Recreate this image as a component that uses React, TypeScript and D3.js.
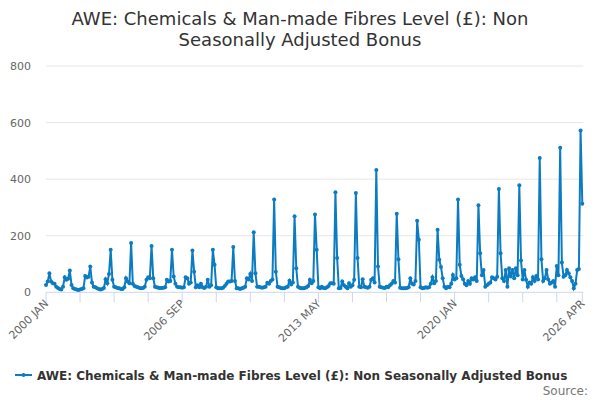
import React from "react";
import * as d3 from "d3";

const title1 = "AWE: Chemicals & Man-made Fibres Level (£): Non";
const title2 = "Seasonally Adjusted Bonus";
const seriesName = "AWE: Chemicals & Man-made Fibres Level (£): Non Seasonally Adjusted Bonus";
const startYear = 2000;
const monthNames = ["JAN", "FEB", "MAR", "APR", "MAY", "JUN", "JUL", "AUG", "SEP", "OCT", "NOV", "DEC"];

const y2000 = [26, 38, 67, 38, 32, 30, 20, 15, 12, 10, 20, 53];
const y2001 = [44, 48, 77, 26, 14, 12, 10, 8, 10, 12, 14, 58];
const y2002 = [52, 55, 91, 35, 20, 18, 14, 12, 10, 12, 15, 46];
const y2003 = [32, 65, 150, 44, 20, 18, 15, 14, 12, 12, 18, 50];
const y2004 = [38, 32, 174, 30, 22, 20, 18, 15, 14, 15, 20, 44];
const y2005 = [53, 50, 164, 50, 20, 18, 16, 15, 15, 16, 18, 44];
const y2006 = [38, 40, 150, 56, 30, 20, 18, 18, 16, 18, 53, 50];
const y2007 = [30, 35, 148, 73, 18, 25, 18, 30, 18, 15, 20, 44];
const y2008 = [20, 25, 150, 97, 18, 14, 14, 14, 16, 22, 30, 38];
const y2009 = [38, 40, 160, 40, 14, 14, 12, 14, 16, 20, 50, 45];
const y2010 = [65, 40, 212, 67, 20, 20, 18, 16, 18, 20, 34, 30];
const y2011 = [40, 45, 328, 73, 20, 18, 15, 14, 14, 18, 20, 41];
const y2012 = [28, 35, 269, 85, 20, 16, 14, 14, 15, 18, 22, 44];
const y2013 = [32, 40, 275, 150, 18, 14, 20, 15, 14, 18, 22, 32];
const y2014 = [32, 30, 354, 121, 14, 15, 38, 25, 20, 14, 32, 20];
const y2015 = [25, 44, 351, 121, 20, 18, 46, 20, 18, 16, 20, 44];
const y2016 = [50, 35, 432, 91, 20, 18, 16, 15, 20, 18, 25, 30];
const y2017 = [40, 35, 278, 117, 16, 14, 14, 14, 15, 18, 50, 30];
const y2018 = [28, 40, 253, 186, 18, 14, 15, 18, 16, 18, 30, 53];
const y2019 = [32, 40, 221, 115, 89, 50, 20, 14, 20, 18, 30, 61];
const y2020 = [45, 50, 328, 97, 58, 46, 30, 25, 40, 30, 50, 45];
const y2021 = [53, 40, 308, 138, 60, 79, 20, 25, 30, 35, 53, 50];
const y2022 = [45, 55, 365, 138, 50, 40, 79, 20, 85, 56, 79, 50];
const y2023 = [85, 60, 378, 112, 45, 79, 44, 20, 35, 30, 53, 40];
const y2024 = [58, 45, 475, 117, 40, 50, 79, 45, 30, 35, 40, 20];
const y2025 = [93, 60, 511, 105, 55, 60, 79, 67, 53, 40, 14, 30];
const y2026 = [79, 82, 572, 313];

const years = [y2000, y2001, y2002, y2003, y2004, y2005, y2006, y2007, y2008, y2009, y2010, y2011, y2012, y2013, y2014, y2015, y2016, y2017, y2018, y2019, y2020, y2021, y2022, y2023, y2024, y2025, y2026];
const values: number[] = years.flat();

const yTicks = [0, 200, 400, 600, 800];
const xTickStep = 20;
const xLabelStep = 80;

const W = 600;
const H = 400;
const left = 46;
const right = 582.3;
const top = 66;
const bottom = 292.3;
const color = "#0c7cc2";
const font = "DejaVu Sans, sans-serif";

function labelFor(i: number) {
  return `${startYear + Math.floor(i / 12)} ${monthNames[i % 12]}`;
}

export default function App() {
  const n = values.length;
  const x = d3.scaleLinear().domain([0, n - 1]).range([left, right]);
  const y = d3.scaleLinear().domain([0, 800]).range([bottom, top]);
  const line = d3.line<number>().x((_, i) => x(i)).y((d) => y(d));
  const xTicks = d3.range(0, n, xTickStep).concat([n - 1]);
  const xLabels = d3.range(0, n - 10, xLabelStep).concat([n - 1]);

  return (
    <svg width={W} height={H} style={{ position: "absolute", left: 0, top: 0, fontFamily: font }}>
      <rect width={W} height={H} fill="#fff" />
      <text x={300} y={25} textAnchor="middle" fontSize={18} fill="#333">{title1}</text>
      <text x={300} y={46} textAnchor="middle" fontSize={18} fill="#333">{title2}</text>
      {yTicks.filter((t) => t > 0).map((t) => (
        <line key={t} x1={left} x2={right + 1} y1={y(t)} y2={y(t)} stroke="#e6e6e6" />
      ))}
      {yTicks.map((t) => (
        <text key={t} x={31} y={y(t) + 4} textAnchor="end" fontSize={11} fill="#666">{t}</text>
      ))}
      <line x1={left} x2={right + 1} y1={bottom} y2={bottom} stroke="#ccd6eb" />
      {xTicks.map((t) => (
        <line key={t} x1={x(t)} x2={x(t)} y1={bottom} y2={bottom + 10} stroke="#ccd6eb" />
      ))}
      {xLabels.map((t) => (
        <text key={t} transform={`translate(${x(t) + 3},${bottom + 12}) rotate(-45)`} textAnchor="end" fontSize={11} fill="#666">{labelFor(t)}</text>
      ))}
      <path d={line(values) || ""} fill="none" stroke={color} strokeWidth={2} />
      {values.map((v, i) => (
        <circle key={i} cx={x(i)} cy={y(v)} r={2} fill={color} />
      ))}
      <line x1={15} x2={32} y1={375} y2={375} stroke={color} strokeWidth={2} />
      <circle cx={23.5} cy={375} r={2} fill={color} />
      <text x={37} y={379.5} fontSize={12} fontWeight="bold" fill="#333">{seriesName}</text>
      <text x={588} y={395} textAnchor="end" fontSize={12} fill="#777">Source:</text>
    </svg>
  );
}
